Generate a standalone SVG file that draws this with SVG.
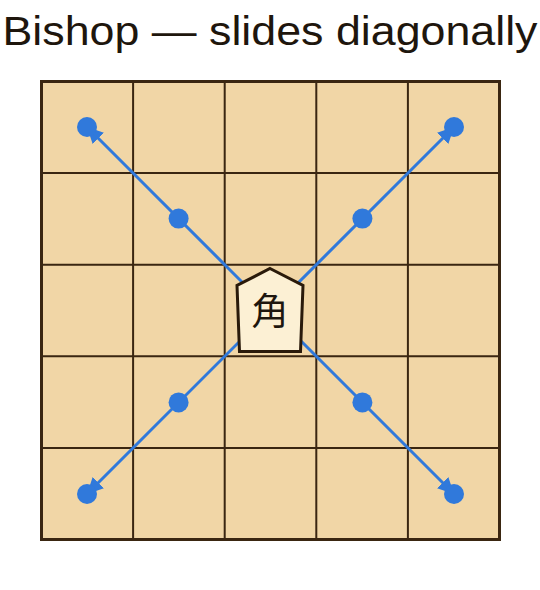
<svg xmlns="http://www.w3.org/2000/svg" width="540" height="590" viewBox="0 0 540 590">
<style>
.title{font-family:"Liberation Sans","Noto Sans",sans-serif;font-size:40px;fill:#1e160d}
.grid{stroke:#3a2611;stroke-width:2;fill:none}
.move{stroke:#3079db;stroke-width:3;fill:none}
.dot{fill:#3079db}
.piece{fill:#fcf0d4;stroke:#2a1a0a;stroke-width:3;stroke-linejoin:miter}
.kanji{font-family:"Noto Sans CJK JP","Noto Sans CJK SC",sans-serif;font-size:37px;font-weight:400;fill:#1e160d}
</style>
<defs>
<marker id="ah" viewBox="0 0 16 16" refX="16" refY="8" markerWidth="16" markerHeight="16" markerUnits="userSpaceOnUse" orient="auto">
<path d="M0,0 L16,8 L0,16 Z" fill="#3079db"/>
</marker>
</defs>
<rect width="540" height="590" fill="#ffffff"/>
<text class="title" x="270" y="45" text-anchor="middle" textLength="535" lengthAdjust="spacingAndGlyphs">Bishop — slides diagonally</text>
<g id="board">
<rect x="41.5" y="81.5" width="458" height="458" fill="#f1d6a6"/>
<path class="grid" d="M133.1,81.5V539.5M224.7,81.5V539.5M316.3,81.5V539.5M407.9,81.5V539.5M41.5,173.1H499.5M41.5,264.7H499.5M41.5,356.3H499.5M41.5,447.9H499.5"/>
<rect x="41.5" y="81.5" width="458" height="458" fill="none" stroke="#3a2611" stroke-width="3"/>
</g>
<g id="connectors">
<line class="move" x1="270.5" y1="310.5" x2="87" y2="127" marker-end="url(#ah)"/>
<line class="move" x1="270.5" y1="310.5" x2="454" y2="127" marker-end="url(#ah)"/>
<line class="move" x1="270.5" y1="310.5" x2="87" y2="494" marker-end="url(#ah)"/>
<line class="move" x1="270.5" y1="310.5" x2="454" y2="494" marker-end="url(#ah)"/>
</g>
<g id="targets">
<circle id="t1" class="dot" cx="87" cy="127" r="10"/>
<circle id="t2" class="dot" cx="178.6" cy="218.6" r="10"/>
<circle id="t3" class="dot" cx="454" cy="127" r="10"/>
<circle id="t4" class="dot" cx="362.4" cy="218.6" r="10"/>
<circle id="t5" class="dot" cx="87" cy="494" r="10"/>
<circle id="t6" class="dot" cx="178.6" cy="402.4" r="10"/>
<circle id="t7" class="dot" cx="454" cy="494" r="10"/>
<circle id="t8" class="dot" cx="362.4" cy="402.4" r="10"/>
</g>
<g id="bishop">
<path class="piece" d="M270,268.5 L303,285.5 L300.5,351.5 L239.5,351.5 L237,285.5 Z"/>
<text class="kanji" x="270" y="325" text-anchor="middle">角</text>
</g>
</svg>
